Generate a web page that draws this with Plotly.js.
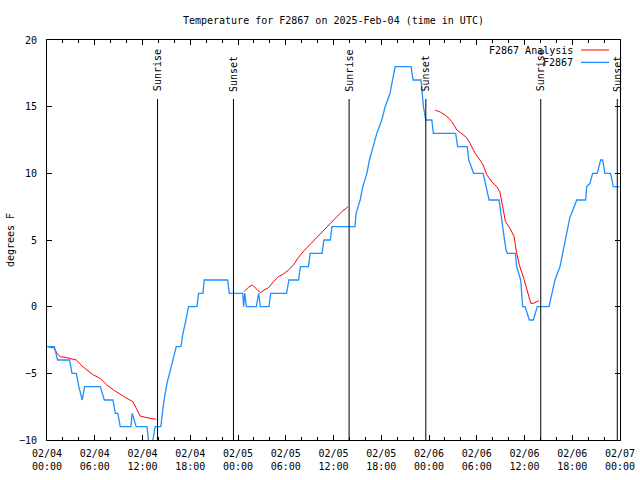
<!DOCTYPE html>
<html>
<head>
<meta charset="utf-8">
<script src="https://cdn.plot.ly/plotly-3.0.1.min.js"></script>
<style>html,body{margin:0;padding:0;background:#fff;}#chart{width:640px;height:480px;}</style>
</head>
<body>
<div id="chart"></div>
<script>
// Hours since 2025-02-04 00:00 UTC
var obsHours = [0,0.92,1.33,2.84,3.14,3.68,4.0,4.43,4.73,6.7,7.2,8.29,8.58,8.9,9.2,10.55,10.7,11.2,12.56,12.76,12.95,13.15,13.3,13.6,14.3,14.65,15.07,15.4,15.82,16.24,16.83,17.08,17.37,17.79,18.84,19.04,19.6,19.75,22.7,22.9,24.6,24.7,24.85,25.05,26.3,26.6,26.8,27.9,28.1,30.1,30.4,31.6,31.85,32.85,33.07,34.57,34.8,35.6,35.8,38.7,38.84,39.13,39.35,39.68,40.19,40.52,41.0,41.44,42.07,42.49,43.1,43.45,43.74,45.75,46.0,47.0,47.3,47.6,48.35,48.55,51.35,51.6,52.8,53.0,53.6,54.8,55.2,55.55,56.8,57.26,57.43,57.68,57.85,58.85,59.02,59.52,59.77,60.07,60.61,61.11,61.61,63.08,63.42,63.83,64.46,64.8,65.09,65.72,65.93,66.56,67.69,67.81,68.23,68.56,69.14,69.57,69.82,70.11,70.82,71.15,71.9];
var obsTemp  = [-3,-3,-4,-4,-5,-5,-6,-7,-6,-6,-7,-7,-8,-8,-9,-9,-8,-9,-9,-10,-11,-11,-10,-9,-9,-7.25,-5.75,-5,-4,-3,-3,-2,-1.25,0,0,1,1,2,2,1,1,0,1,0,0,1,0,0,1,1,2,2,3,3,4,4,5,5,6,6,7,7.5,8,9,10,11,12,13,14,15,16,17,18,18,17,17,15,14,14,13,13,12,12,11,10,10,9,8,8,6.25,5.25,4.25,4,4,3,2,0,0,-1,-1,0,0,1,2,3,4,5,6.75,7,8,8,9,9.25,10,10,11,11,10,10,9,9];

var anaHours1 = [0.08,0.92,1.25,1.67,2.3,2.93,3.68,4.1,4.4,5.02,5.86,6.69,7.53,8.37,9.2,9.83,10.8,11.3,11.7,12.35,12.97,13.7];
var anaTemp1  = [-3,-3.1,-3.5,-3.75,-3.8,-3.87,-4,-4.25,-4.45,-4.75,-5.13,-5.38,-5.88,-6.25,-6.58,-6.8,-7.13,-7.7,-8.2,-8.3,-8.35,-8.45];
var anaHours2 = [24.78,25.3,25.8,26.8,27.4,27.8,28.46,29.1,29.7,30.34,30.97,31.6,32.3,33.2,34.3,35.3,36.2,37.0,37.84];
var anaTemp2  = [1.13,1.45,1.63,1.05,1.3,1.4,1.88,2.25,2.45,2.75,3.13,3.7,4.2,4.75,5.5,6.1,6.65,7.1,7.5];
var anaHours3 = [48.76,49.4,50.2,50.86,51.5,52.1,52.7,53.16,53.8,54.4,54.8,55.25,55.9,56.5,56.9,57.1,57.3,57.6,58.2,58.7,58.95,59.35,59.9,60.35,60.8,61.1,61.5,61.8];
var anaTemp3  = [14.75,14.6,14.3,13.88,13.25,12.95,12.7,12.25,11.5,11.0,10.63,9.9,9.35,9.0,8.63,8.0,7.3,6.4,5.85,5.25,4.25,3.13,2.13,1.25,0.25,0.25,0.35,0.45];

var sunriseHours = [13.89, 37.96, 62.04];
var sunsetHours  = [23.43, 47.6, 71.66];

var seriesNames = ["F2867 Analysis", "F2867"];
var titleText = "Temperature for F2867 on 2025-Feb-04 (time in UTC)";

var T0 = Date.UTC(2025, 1, 4, 0, 0, 0);
function toDate(h) {
  return new Date(T0 + Math.round(h * 3600000)).toISOString().replace('T', ' ').slice(0, 19);
}

var anaX = [], anaY = [];
[[anaHours1, anaTemp1], [anaHours2, anaTemp2], [anaHours3, anaTemp3]].forEach(function (seg, i, all) {
  seg[0].forEach(function (h, j) { anaX.push(toDate(h)); anaY.push(seg[1][j]); });
  if (i < all.length - 1) {
    anaX.push(toDate((seg[0][seg[0].length - 1] + all[i + 1][0][0]) / 2));
    anaY.push(null);
  }
});

var font = "DejaVu Sans Mono, Liberation Mono, monospace";

var traces = [
  { x: anaX, y: anaY, mode: 'lines', name: seriesNames[0], connectgaps: false,
    line: { color: '#ff0000', width: 1 } },
  { x: obsHours.map(toDate), y: obsTemp, mode: 'lines', name: seriesNames[1],
    line: { color: '#1e90ff', width: 1.3 } }
];

var shapes = [], annotations = [];
function addEvent(h, label) {
  shapes.push({ type: 'line', xref: 'x', yref: 'paper', x0: toDate(h), x1: toDate(h), y0: 0, y1: 0.8525,
    line: { color: '#000', width: 1 } });
  annotations.push({ xref: 'x', yref: 'paper', x: toDate(h), y: 0.866, text: label, textangle: -90,
    showarrow: false, xanchor: 'center', yanchor: 'bottom', font: { family: font, size: 10, color: '#000' } });
}
sunriseHours.forEach(function (h) { addEvent(h, 'Sunrise'); });
sunsetHours.forEach(function (h) { addEvent(h, 'Sunset'); });

// legend (text right-aligned, sample line on right)
var legColors = ['#ff0000', '#1e90ff'];
var legY = [0.975, 0.944];
seriesNames.forEach(function (n, i) {
  annotations.push({ xref: 'paper', yref: 'paper', x: 0.921, y: legY[i], text: n, showarrow: false,
    xanchor: 'right', yanchor: 'middle', font: { family: font, size: 10, color: '#000' } });
  shapes.push({ type: 'line', xref: 'paper', yref: 'paper', x0: 0.932, x1: 0.981, y0: legY[i], y1: legY[i],
    line: { color: legColors[i], width: i === 0 ? 1 : 1.3 } });
});

var layout = {
  width: 640, height: 480,
  margin: { l: 47, r: 20, t: 40, b: 40 },
  paper_bgcolor: '#fff', plot_bgcolor: '#fff',
  showlegend: false, hovermode: false,
  font: { family: font, size: 10, color: '#000' },
  title: { text: titleText, x: 0.521, xanchor: 'center', y: 0.958, yanchor: 'middle',
    font: { family: font, size: 10, color: '#000' } },
  xaxis: {
    type: 'date',
    range: [toDate(0), toDate(72)],
    tickmode: 'linear', tick0: toDate(0), dtick: 6 * 3600000,
    tickformat: '%m/%d<br>%H:%M',
    ticks: 'inside', ticklen: 5, tickcolor: '#000', tickwidth: 1,
    minor: { dtick: 2 * 3600000, ticks: 'inside', ticklen: 3, tickcolor: '#000', showgrid: false },
    showline: true, linecolor: '#000', linewidth: 1, mirror: 'allticks',
    showgrid: false, zeroline: false,
    ticklabelstandoff: 4,
    tickfont: { family: font, size: 10, color: '#000' }
  },
  yaxis: {
    range: [-10, 20], tickmode: 'linear', tick0: -10, dtick: 5,
    ticks: 'inside', ticklen: 5, tickcolor: '#000',
    showline: true, linecolor: '#000', linewidth: 1, mirror: 'allticks',
    showgrid: false, zeroline: false,
    tickfont: { family: font, size: 10, color: '#000' },
    ticklabelstandoff: 7,
    title: { text: 'degrees F', standoff: 2, font: { family: font, size: 10, color: '#000' } }
  },
  shapes: shapes,
  annotations: annotations
};

Plotly.newPlot('chart', traces, layout, { staticPlot: true, displayModeBar: false });
</script>
</body>
</html>
